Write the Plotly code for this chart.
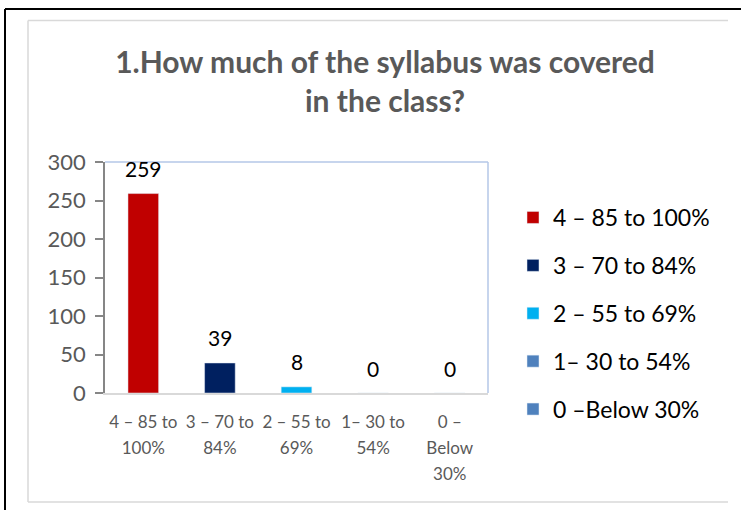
import plotly.graph_objects as go

categories = ["4 – 85 to 100%", "3 – 70 to 84%", "2 – 55 to 69%", "1– 30 to 54%", "0 –Below 30%"]
tick_labels = ["4 – 85 to<br>100%", "3 – 70 to<br>84%", "2 – 55 to<br>69%", "1– 30 to<br>54%", "0 –<br>Below<br>30%"]
values = [259, 39, 8, 0, 0]
colors = ["#C00000", "#002060", "#00B0F0", "#4F81BD", "#4F81BD"]

W, H = 741, 510
L, R, T, B = 105, 488, 162, 393
pw, ph = R - L, B - T

def px(x):
    return (x - L) / pw

def py(y):
    return (B - y) / ph

FONT = "Lato"

def small(t):
    return "<br>".join('<span style="font-size:17px">%s</span>' % s for s in t.split("<br>"))

fig = go.Figure()
for i, (cat, val, col) in enumerate(zip(categories, values, colors)):
    fig.add_trace(go.Bar(
        x=[i], y=[val], name=cat, marker_color=col,
        width=0.4, legendgroup=str(i), showlegend=True,
    ))
    fig.add_annotation(x=i, y=val, text=str(val), showarrow=False,
                       yshift=25, yanchor="middle",
                       font=dict(family=FONT, size=21, color="#000000"))

shapes = [
    dict(type="line", xref="paper", yref="paper", x0=px(5), x1=px(745), y0=py(9), y1=py(9),
         line=dict(color="#000000", width=2)),
    dict(type="line", xref="paper", yref="paper", x0=px(5), x1=px(5), y0=py(9), y1=py(515),
         line=dict(color="#000000", width=2)),
    dict(type="line", xref="paper", yref="paper", x0=px(28), x1=px(728), y0=py(20.5), y1=py(20.5),
         line=dict(color="#D9D9D9", width=1.5)),
    dict(type="line", xref="paper", yref="paper", x0=px(28), x1=px(28), y0=py(20.5), y1=py(502),
         line=dict(color="#D9D9D9", width=1.5)),
    dict(type="line", xref="paper", yref="paper", x0=px(28), x1=px(728), y0=py(502), y1=py(502),
         line=dict(color="#D9D9D9", width=1.5)),
    dict(type="line", xref="paper", yref="paper", x0=0, x1=1, y0=1, y1=1,
         line=dict(color="#B4C7E7", width=1.5)),
    dict(type="line", xref="paper", yref="paper", x0=1, x1=1, y0=0, y1=1,
         line=dict(color="#B4C7E7", width=1.5)),
]

fig.update_layout(
    width=W, height=H,
    margin=dict(l=L, r=W - R, t=T, b=H - B, autoexpand=False),
    paper_bgcolor="white", plot_bgcolor="white",
    barmode="overlay",
    title=dict(text="<b>1.How much of the syllabus was covered<br>in the class?</b>",
               x=385 / W, xanchor="center", y=1 - 73 / H, yanchor="top",
               font=dict(family=FONT, size=30, color="#595959")),
    font=dict(family=FONT, color="#595959"),
    showlegend=True,
    legend=dict(x=px(513), xanchor="left", y=py(196), yanchor="top",
                font=dict(family=FONT, size=23, color="#000000"),
                tracegroupgap=15, bgcolor="rgba(0,0,0,0)", maxheight=400),
    shapes=shapes,
)
fig.update_xaxes(range=[-0.5, 4.5], tickmode="array", tickvals=list(range(len(categories))),
                 ticktext=[small(t) for t in tick_labels],
                 showline=True, linecolor="#D9D9D9", linewidth=1.5, ticks="",
                 tickangle=0, tickfont=dict(family=FONT, size=20, color="#595959"),
                 ticklabelstandoff=9, showgrid=False, zeroline=False, fixedrange=True)
fig.update_yaxes(range=[0, 300], dtick=50, showline=True, linecolor="#868686", linewidth=1.5,
                 ticks="outside", ticklen=8, tickcolor="#868686", tickwidth=1.5,
                 showgrid=False, zeroline=False, fixedrange=True,
                 tickfont=dict(family=FONT, size=22, color="#595959"), ticklabelstandoff=5)

fig.write_html("out.html", config={"displayModeBar": False},
               post_script="document.body.style.margin='0';")
